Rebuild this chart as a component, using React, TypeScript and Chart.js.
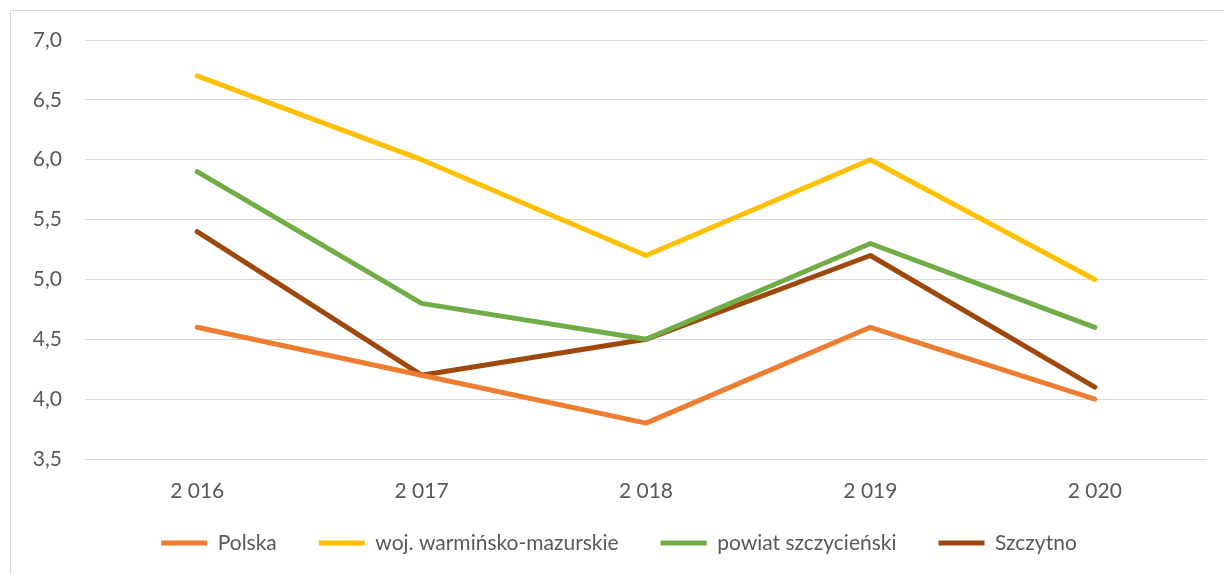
import React, { useEffect, useRef } from "react";
import { Chart, registerables } from "chart.js";

Chart.register(...registerables);

const years = ["2 016", "2 017", "2 018", "2 019", "2 020"];
const polska = [4.6, 4.2, 3.8, 4.6, 4.0];
const wojewodztwo = [6.7, 6.0, 5.2, 6.0, 5.0];
const powiat = [5.9, 4.8, 4.5, 5.3, 4.6];
const szczytno = [5.4, 4.2, 4.5, 5.2, 4.1];
const seriesNames = ["Polska", "woj. warmińsko-mazurskie", "powiat szczycieński", "Szczytno"];
const seriesColors = ["#ED7D31", "#FFC000", "#70AD47", "#9E480E"];

const FONT = "Lato";
const TEXT = "#595959";
const FS = 21;
const LEG_PAD = 42;

const legendMover = {
  id: "legendMover",
  afterLayout(chart: any) {
    const lg = chart.legend;
    if (!lg) return;
    const itemH = FS;
    const targetCenter = 543;
    lg.top = targetCenter - itemH / 2 - LEG_PAD;
    lg.bottom = lg.top + lg.height;
    lg.left += 15.5;
    lg.right += 15.5;
  },
};

export default function App() {
  const ref = useRef<HTMLCanvasElement>(null);
  useEffect(() => {
    if (!ref.current) return;
    const values = [polska, wojewodztwo, powiat, szczytno];
    const chart = new Chart(ref.current, {
      type: "line",
      data: {
        labels: years,
        datasets: values.map((v, i) => ({
          label: seriesNames[i],
          data: v,
          borderColor: seriesColors[i],
          backgroundColor: seriesColors[i],
          borderWidth: 5,
          borderCapStyle: "round" as const,
          borderJoinStyle: "round" as const,
          pointRadius: 0,
          pointHoverRadius: 0,
          tension: 0,
          fill: false,
        })),
      },
      plugins: [legendMover],
      options: {
        responsive: false,
        animation: false,
        devicePixelRatio: 1,
        layout: { padding: { top: 40, right: 17, left: 0, bottom: 0 } },
        plugins: {
          tooltip: { enabled: false },
          legend: {
            position: "bottom",
            maxHeight: 65,
            labels: {
              usePointStyle: true,
              pointStyle: "line",
              pointStyleWidth: 46,
              color: TEXT,
              font: { family: FONT, size: FS },
              padding: LEG_PAD,
            },
          },
        },
        scales: {
          x: {
            offset: true,
            grid: { display: false, drawTicks: false },
            border: { display: false },
            ticks: { color: TEXT, font: { family: FONT, size: FS }, padding: 19.5, maxRotation: 0 },
            afterFit: (s: any) => { s.height = 50; },
          },
          y: {
            min: 3.5,
            max: 7.0,
            grid: { color: "#D9D9D9", lineWidth: 1, drawTicks: false },
            border: { display: false },
            ticks: {
              stepSize: 0.5,
              color: TEXT,
              font: { family: FONT, size: FS },
              padding: 23,
              callback: (v: any) => Number(v).toFixed(1).replace(".", ","),
            },
            afterFit: (s: any) => { s.width = 85; },
          },
        },
      },
    });
    return () => chart.destroy();
  }, []);
  return (
    <div style={{ position: "fixed", left: 0, top: 0, width: 1224, height: 574, overflow: "hidden", background: "#fff" }}>
      <div style={{ position: "absolute", left: 10, top: 10, width: 1240, height: 600, border: "1px solid #D9D9D9", boxSizing: "border-box" }} />
      <canvas ref={ref} width={1224} height={574} style={{ position: "absolute", left: 0, top: 0, width: 1224, height: 574 }} />
    </div>
  );
}
